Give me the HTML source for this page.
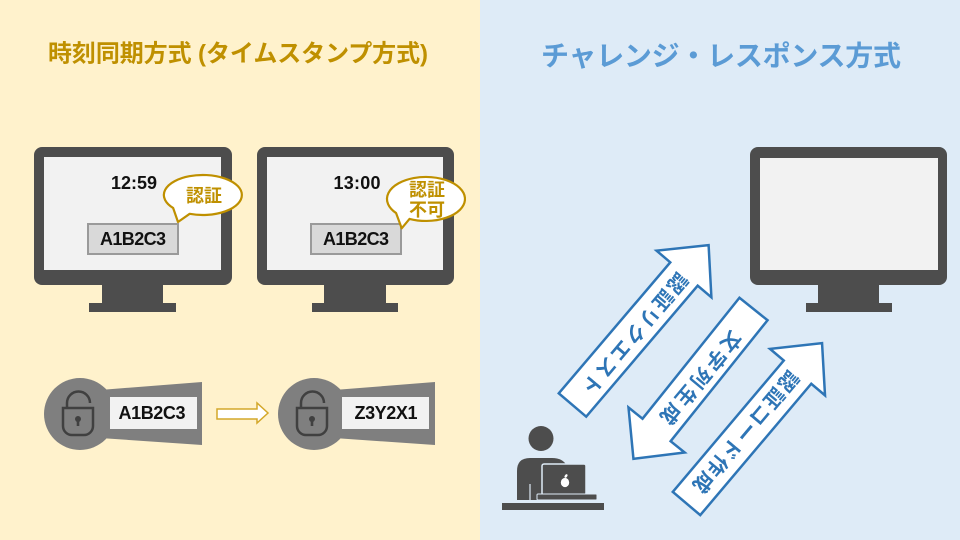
<!DOCTYPE html>
<html><head><meta charset="utf-8"><style>
html,body{margin:0;padding:0;width:960px;height:540px;overflow:hidden;}
svg{display:block;}
text{font-family:"Liberation Sans","Noto Sans CJK JP",sans-serif;font-weight:bold;}
</style></head><body>
<svg width="960" height="540" viewBox="0 0 960 540" xmlns="http://www.w3.org/2000/svg">
<rect x="0" y="0" width="480" height="540" fill="#fff2cc"/>
<rect x="480" y="0" width="480" height="540" fill="#deebf7"/>

<!-- Titles -->
<text x="48" y="54" font-size="24" fill="#bf9000" dominant-baseline="central" textLength="380">時刻同期方式 (タイムスタンプ方式)</text>
<text x="541" y="56" font-size="28" fill="#5b9bd5" dominant-baseline="central" textLength="360">チャレンジ・レスポンス方式</text>

<!-- Monitor 1 -->
<rect x="34" y="147" width="198" height="138" rx="8" fill="#4d4d4d"/>
<rect x="44" y="157" width="177" height="113" fill="#f2f2f2"/>
<rect x="102" y="284" width="61" height="20" fill="#4d4d4d"/>
<rect x="89" y="303" width="87" height="9" fill="#4d4d4d"/>
<text x="134" y="183" font-size="18" fill="#111" text-anchor="middle" dominant-baseline="central" textLength="46">12:59</text>
<rect x="88" y="224" width="90" height="30" fill="#d9d9d9" stroke="#9a9a9a" stroke-width="2"/>
<text x="133" y="239" font-size="18" fill="#111" text-anchor="middle" dominant-baseline="central" textLength="66">A1B2C3</text>
<path d="M189.7 213.8 L178 222 L173.1 207.9 A39 20 0 1 1 189.7 213.8 Z" fill="#ffffff" stroke="#bf9000" stroke-width="2.2" stroke-linejoin="round"/>
<text x="204" y="196" font-size="18" fill="#bf9000" text-anchor="middle" dominant-baseline="central">認証</text>

<!-- Monitor 2 -->
<rect x="257" y="147" width="197" height="138" rx="8" fill="#4d4d4d"/>
<rect x="267" y="157" width="176" height="113" fill="#f2f2f2"/>
<rect x="324" y="284" width="62" height="20" fill="#4d4d4d"/>
<rect x="312" y="303" width="86" height="9" fill="#4d4d4d"/>
<text x="357" y="183" font-size="18" fill="#111" text-anchor="middle" dominant-baseline="central" textLength="47">13:00</text>
<rect x="311" y="224" width="90" height="30" fill="#d9d9d9" stroke="#9a9a9a" stroke-width="2"/>
<text x="356" y="239" font-size="18" fill="#111" text-anchor="middle" dominant-baseline="central" textLength="66">A1B2C3</text>
<path d="M409.5 218.9 L401.7 228.3 L396.1 213.1 A39 22 0 1 1 409.5 218.9 Z" fill="#ffffff" stroke="#bf9000" stroke-width="2.2" stroke-linejoin="round"/>
<text x="427" y="190" font-size="18" fill="#bf9000" text-anchor="middle" dominant-baseline="central">認証</text>
<text x="427" y="210" font-size="18" fill="#bf9000" text-anchor="middle" dominant-baseline="central">不可</text>

<!-- Lock 1 -->
<g>
<circle cx="80" cy="414" r="36" fill="#7f7f7f"/>
<polygon points="100,390 202,382 202,445 100,438" fill="#7f7f7f"/>
<path d="M63 408 H93 V426 A9 9 0 0 1 84 435 H72 A9 9 0 0 1 63 426 Z" fill="none" stroke="#404040" stroke-width="2.5"/>
<path d="M67 408 V403 A11.5 11.5 0 0 1 90 403" fill="none" stroke="#404040" stroke-width="2.5"/>
<circle cx="78" cy="419" r="3" fill="#404040"/>
<rect x="76.7" y="419" width="2.6" height="7" fill="#404040"/>
</g>
<rect x="110" y="397" width="87" height="32" fill="#f2f2f2"/>
<text x="152" y="413" font-size="18" fill="#111" text-anchor="middle" dominant-baseline="central" textLength="67">A1B2C3</text>

<!-- gold arrow -->
<polygon points="217,409 257,409 257,403 268,413 257,423 257,419 217,419" fill="#ffffff" stroke="#d4a82a" stroke-width="1.5"/>

<!-- Lock 2 -->
<g transform="translate(234,0)">
<circle cx="80" cy="414" r="36" fill="#7f7f7f"/>
<polygon points="100,390 201,382 201,445 100,438" fill="#7f7f7f"/>
<path d="M63 408 H93 V426 A9 9 0 0 1 84 435 H72 A9 9 0 0 1 63 426 Z" fill="none" stroke="#404040" stroke-width="2.5"/>
<path d="M67 408 V403 A11.5 11.5 0 0 1 90 403" fill="none" stroke="#404040" stroke-width="2.5"/>
<circle cx="78" cy="419" r="3" fill="#404040"/>
<rect x="76.7" y="419" width="2.6" height="7" fill="#404040"/>
</g>
<rect x="342" y="397" width="87" height="32" fill="#f2f2f2"/>
<text x="386" y="413" font-size="18" fill="#111" text-anchor="middle" dominant-baseline="central" textLength="63">Z3Y2X1</text>

<!-- Monitor 3 -->
<rect x="750" y="147" width="197" height="138" rx="8" fill="#4d4d4d"/>
<rect x="760" y="158" width="178" height="112" fill="#f2f2f2"/>
<rect x="818" y="284" width="61" height="20" fill="#4d4d4d"/>
<rect x="806" y="303" width="86" height="9" fill="#4d4d4d"/>

<!-- Blue arrows -->
<g transform="translate(572.5,405) rotate(-49.6)">
<polygon points="0,-18 172,-18 172,-36 210,0 172,36 172,18 0,18" fill="#ffffff" stroke="#2e75b6" stroke-width="2.5"/>
</g>
<g transform="translate(753.5,309) rotate(128.7)">
<polygon points="0,-18 155,-18 155,-36 192,0 155,36 155,18 0,18" fill="#ffffff" stroke="#2e75b6" stroke-width="2.5"/>
</g>
<g transform="translate(686.5,503.5) rotate(-49.8)">
<polygon points="0,-18 172,-18 172,-36 210,0 172,36 172,18 0,18" fill="#ffffff" stroke="#2e75b6" stroke-width="2.5"/>
</g>

<g transform="translate(634,333) rotate(130)">
<text x="0" y="0" font-size="20" fill="#2e75b6" text-anchor="middle" dominant-baseline="central" textLength="152">認証リクエスト</text>
</g>
<g transform="translate(700,377) rotate(130)">
<text x="0" y="0" font-size="20" fill="#2e75b6" text-anchor="middle" dominant-baseline="central" textLength="114">文字列生成</text>
</g>
<g transform="translate(745,431) rotate(130)">
<text x="0" y="0" font-size="20" fill="#2e75b6" text-anchor="middle" dominant-baseline="central" textLength="152">認証コード作成</text>
</g>

<!-- Person -->
<circle cx="541" cy="438.5" r="12.5" fill="#4d4d4d"/>
<path d="M517 500 L517 471 Q517 458 530 458 L552 458 Q563 458 567 466 L567 500 Z" fill="#4d4d4d"/>
<line x1="530" y1="484" x2="530" y2="500" stroke="#deebf7" stroke-width="1.2"/>
<rect x="542" y="464" width="44" height="31" rx="2" fill="#4d4d4d" stroke="#deebf7" stroke-width="1.5"/>
<rect x="537" y="494" width="60" height="6" rx="1" fill="#4d4d4d" stroke="#deebf7" stroke-width="1"/>
<ellipse cx="565" cy="482.5" rx="4.2" ry="4.6" fill="#ffffff"/>
<ellipse cx="566" cy="476" rx="1.2" ry="2" fill="#ffffff" transform="rotate(35 566 476)"/>
<rect x="502" y="503" width="102" height="7" fill="#4d4d4d"/>
</svg>
</body></html>
